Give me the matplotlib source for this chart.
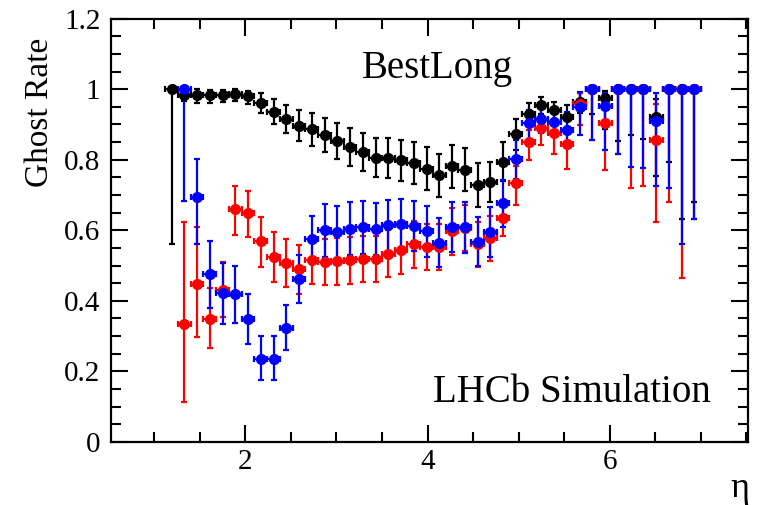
import numpy as np
import matplotlib
matplotlib.use("Agg")
import matplotlib.pyplot as plt
from matplotlib.ticker import MultipleLocator

plt.rcParams['font.family'] = ['Liberation Serif', 'DejaVu Serif']
plt.rcParams['mathtext.fontset'] = 'stix'

# bin centres (bins of width 0.14 in eta)
bin_width = 0.14
eta_black = [1.19, 1.33, 1.47, 1.61, 1.75, 1.89, 2.03, 2.17, 2.31, 2.45, 2.59, 2.73,
             2.87, 3.01, 3.15, 3.29, 3.43, 3.57, 3.71, 3.85, 3.99, 4.13, 4.27, 4.41,
             4.55, 4.69, 4.83, 4.97, 5.11, 5.25, 5.39, 5.53, 5.67, 5.81, 5.95, 6.09,
             6.23, 6.37, 6.51, 6.65, 6.79, 6.93]
eta_col = eta_black[1:]

black = [1.000, 0.983, 0.985, 0.983, 0.985, 0.986, 0.981, 0.961, 0.936, 0.915, 0.896, 0.886,
         0.870, 0.853, 0.836, 0.822, 0.806, 0.805, 0.798, 0.791, 0.775, 0.756, 0.782, 0.772,
         0.728, 0.737, 0.795, 0.872, 0.931, 0.955, 0.940, 0.920, 0.964, 1.000, 0.974, 1.000,
         1.000, 1.000, 0.921, 1.000, 1.000, 1.000]
black_lo = [0.440, 0.015, 0.023, 0.022, 0.020, 0.020, 0.022, 0.029, 0.036, 0.039, 0.044, 0.047,
            0.049, 0.052, 0.053, 0.054, 0.056, 0.058, 0.058, 0.059, 0.060, 0.061, 0.061, 0.062,
            0.063, 0.058, 0.054, 0.044, 0.030, 0.024, 0.025, 0.035, 0.032, 0.071, 0.086, 0.147,
            0.131, 0.142, 0.167, 0.206, 0.369, 0.320]
black_hi = [0.000, 0.012, 0.015, 0.015, 0.014, 0.014, 0.015, 0.029, 0.036, 0.039, 0.044, 0.047,
            0.049, 0.052, 0.053, 0.054, 0.056, 0.058, 0.058, 0.059, 0.060, 0.061, 0.061, 0.062,
            0.063, 0.058, 0.054, 0.044, 0.030, 0.024, 0.025, 0.035, 0.025, 0.000, 0.020, 0.000,
            0.000, 0.000, 0.050, 0.000, 0.000, 0.000]

blue = [1.000, 0.693, 0.475, 0.422, 0.418, 0.348, 0.236, 0.236, 0.324, 0.461, 0.574,
        0.600, 0.595, 0.605, 0.609, 0.604, 0.614, 0.617, 0.612, 0.597, 0.565, 0.609, 0.608,
        0.568, 0.595, 0.676, 0.801, 0.903, 0.916, 0.907, 0.884, 0.950, 1.000, 0.953, 1.000,
        1.000, 1.000, 0.909, 1.000, 1.000, 1.000]
blue_lo = [0.317, 0.131, 0.095, 0.087, 0.080, 0.070, 0.060, 0.060, 0.064, 0.067, 0.069,
           0.075, 0.075, 0.075, 0.075, 0.074, 0.073, 0.073, 0.072, 0.072, 0.070, 0.072, 0.072,
           0.070, 0.070, 0.066, 0.055, 0.048, 0.040, 0.040, 0.052, 0.080, 0.143, 0.126, 0.184,
           0.220, 0.223, 0.184, 0.280, 0.438, 0.367]
blue_hi = [0.000, 0.110, 0.095, 0.085, 0.080, 0.070, 0.064, 0.064, 0.064, 0.068, 0.066,
           0.075, 0.075, 0.075, 0.075, 0.074, 0.073, 0.073, 0.072, 0.072, 0.070, 0.072, 0.072,
           0.070, 0.070, 0.066, 0.055, 0.037, 0.035, 0.035, 0.052, 0.042, 0.000, 0.035, 0.000,
           0.000, 0.000, 0.081, 0.000, 0.000, 0.000]

red = [0.333, 0.449, 0.348, 0.430, 0.659, 0.649, 0.569, 0.524, 0.508, 0.490, 0.515,
       0.510, 0.512, 0.515, 0.518, 0.518, 0.534, 0.543, 0.560, 0.553, 0.552, 0.597, 0.606,
       0.560, 0.577, 0.635, 0.733, 0.851, 0.890, 0.876, 0.844, 0.958, 1.000, 0.904, 1.000,
       1.000, 1.000, 0.857, 1.000, 1.000, 1.000]
red_lo = [0.220, 0.152, 0.081, 0.076, 0.073, 0.069, 0.072, 0.070, 0.069, 0.070, 0.066,
          0.066, 0.066, 0.066, 0.066, 0.066, 0.066, 0.066, 0.066, 0.066, 0.066, 0.066, 0.066,
          0.064, 0.064, 0.050, 0.060, 0.052, 0.049, 0.060, 0.069, 0.060, 0.143, 0.132, 0.184,
          0.279, 0.275, 0.233, 0.320, 0.534, 0.367]
red_hi = [0.291, 0.159, 0.088, 0.080, 0.067, 0.063, 0.070, 0.070, 0.068, 0.068, 0.066,
          0.066, 0.066, 0.066, 0.066, 0.066, 0.066, 0.066, 0.066, 0.066, 0.066, 0.066, 0.066,
          0.064, 0.064, 0.050, 0.050, 0.033, 0.027, 0.035, 0.050, 0.030, 0.000, 0.050, 0.000,
          0.000, 0.000, 0.100, 0.000, 0.000, 0.000]

fig = plt.figure(figsize=(7.58, 5.05), dpi=100)
ax = fig.add_axes([0.147, 0.125, 0.840, 0.838])

common = dict(fmt='o', markersize=7, elinewidth=1.6, capsize=2.2, capthick=1.6,
              xerr=bin_width / 2)
ax.errorbar(eta_black, black, yerr=[black_lo, black_hi], color='black', **common)
ax.errorbar(eta_col, red, yerr=[red_lo, red_hi], color='#ff0000', **common)
ax.errorbar(eta_col, blue, yerr=[blue_lo, blue_hi], color='#0000ff', **common)

ax.set_xlim(0.53, 7.52)
ax.set_ylim(0, 1.2)
ax.xaxis.set_major_locator(MultipleLocator(2))
ax.xaxis.set_minor_locator(MultipleLocator(0.5))
ax.yaxis.set_major_locator(MultipleLocator(0.2))
ax.yaxis.set_minor_locator(MultipleLocator(0.05))
ax.set_yticks([0, 0.2, 0.4, 0.6, 0.8, 1.0, 1.2])
ax.set_yticklabels(['0', '0.2', '0.4', '0.6', '0.8', '1', '1.2'])
ax.tick_params(which='both', direction='in', top=True, right=True, width=1.5,
               labelsize=21)
ax.tick_params(which='major', length=12)
ax.tick_params(axis='y', which='major', pad=8)
ax.tick_params(axis='x', which='major', pad=5)
ax.tick_params(which='minor', length=7)
for s in ax.spines.values():
    s.set_linewidth(1.6)

fig.text(0.052, 0.925, 'Ghost Rate', rotation=90, ha='center', va='top', fontsize=24)
fig.text(0.976, 0.032, 'η', ha='center', va='center', fontsize=26)
fig.text(0.577, 0.865, 'BestLong', ha='center', va='center', fontsize=28)
fig.text(0.755, 0.222, 'LHCb Simulation', ha='center', va='center', fontsize=28)

fig.savefig('out.png', dpi=100)
